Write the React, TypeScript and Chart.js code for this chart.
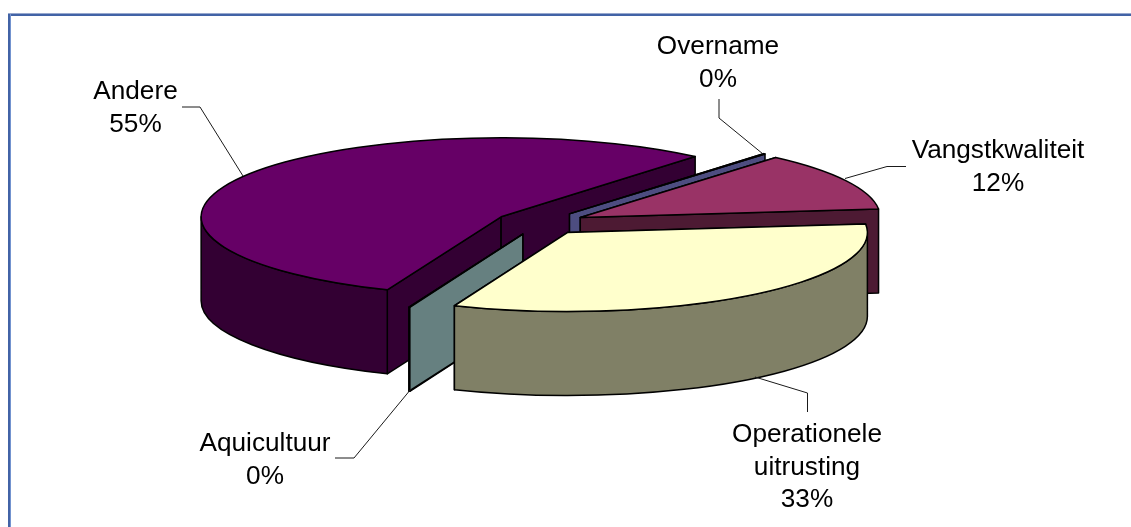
import React, { useEffect, useRef } from "react";
import { Chart, registerables } from "chart.js";

Chart.register(...registerables);

// --- data ---
const categories = ["Overname", "Vangstkwaliteit", "Operationele uitrusting", "Aquicultuur", "Andere"];
const labelLines = [["Overname"], ["Vangstkwaliteit"], ["Operationele", "uitrusting"], ["Aquicultuur"], ["Andere"]];
const values = [0.1, 12, 32.85, 0.05, 55];
const percentLabels = ["0%", "12%", "33%", "0%", "55%"];
const topColors = ["#9999FF", "#993366", "#FFFFCC", "#CCFFFF", "#660066"];
const sideColors = ["#4D4D80", "#4D1A33", "#808066", "#668080", "#330033"];

// --- layout ---
const W = 1131;
const H = 527;
const PIE_X = 540;
const PIE_Y = 223;
const RADIUS = 300;
const SQUASH = 79 / 300;
const DEPTH = 84;
const EXPLODE = 45.5;
const ROTATION = 40.3;
const PAINT_ORDER = [4, 0, 1, 3, 2];
const FONT = '26.2px "Liberation Sans", Arial, sans-serif';
const LINE_H = 32.7;
// label centre x, first baseline y, leader start on the slice, elbow, leader end
const labelLayout = [
  { x: 718, y: 54, leader: [[763, 154], [719, 118], [719, 99]] },
  { x: 998, y: 158, leader: [[845, 178.5], [887, 166.5], [906, 166.5]] },
  { x: 807, y: 442, leader: [[755, 377], [807.5, 393], [807.5, 412]] },
  { x: 265, y: 451, leader: [[411, 389], [354, 458], [335, 458]] },
  { x: 135.5, y: 99, leader: [[243, 176], [200, 107], [182, 107]] },
];

const pie3d = {
  id: "pie3d",
  beforeDatasetsDraw(chart: any) {
    const ctx: CanvasRenderingContext2D = chart.ctx;
    const arcs = chart.getDatasetMeta(0).data;
    ctx.save();
    ctx.lineJoin = "round";
    ctx.strokeStyle = "#000";
    ctx.lineWidth = 1.5;

    const paint = (fill: string) => {
      ctx.fillStyle = fill;
      ctx.fill();
      ctx.stroke();
    };

    PAINT_ORDER.forEach((i) => {
      const a = arcs[i];
      const s: number = a.startAngle;
      const e: number = a.endAngle;
      const R: number = a.outerRadius;
      const mid = (s + e) / 2;
      const off: number = a.options.offset;
      const ax = PIE_X + Math.cos(mid) * off;
      const ay = PIE_Y + Math.sin(mid) * off * SQUASH;
      const rim = (t: number) => [ax + Math.cos(t) * R, ay + Math.sin(t) * R * SQUASH];

      // cut faces
      [s, e].forEach((t) => {
        const [rx, ry] = rim(t);
        ctx.beginPath();
        ctx.moveTo(ax, ay);
        ctx.lineTo(rx, ry);
        ctx.lineTo(rx, ry + DEPTH);
        ctx.lineTo(ax, ay + DEPTH);
        ctx.closePath();
        paint(sideColors[i]);
      });

      // outer wall: only the part that faces the viewer
      for (let k = -1; k <= 1; k++) {
        const lo = Math.max(s + k * 2 * Math.PI, 0);
        const hi = Math.min(e + k * 2 * Math.PI, Math.PI);
        if (hi <= lo) continue;
        ctx.beginPath();
        ctx.ellipse(ax, ay, R, R * SQUASH, 0, lo, hi);
        ctx.ellipse(ax, ay + DEPTH, R, R * SQUASH, 0, hi, lo, true);
        ctx.closePath();
        paint(sideColors[i]);
      }

      // top face
      ctx.beginPath();
      ctx.moveTo(ax, ay);
      ctx.ellipse(ax, ay, R, R * SQUASH, 0, s, e);
      ctx.closePath();
      paint(a.options.backgroundColor);
    });
    ctx.restore();
    return false;
  },
  afterDraw(chart: any) {
    const ctx: CanvasRenderingContext2D = chart.ctx;
    ctx.save();
    ctx.strokeStyle = "#1a1a1a";
    ctx.lineWidth = 1;
    ctx.fillStyle = "#000";
    ctx.font = FONT;
    ctx.textAlign = "center";
    ctx.textBaseline = "alphabetic";
    labelLayout.forEach((l, i) => {
      ctx.beginPath();
      l.leader.forEach(([x, y], j) => (j ? ctx.lineTo(x, y) : ctx.moveTo(x, y)));
      ctx.stroke();
      [...labelLines[i], percentLabels[i]].forEach((t, j) => {
        ctx.fillText(t, l.x, l.y + j * LINE_H);
      });
    });
    ctx.restore();
  },
};

export default function App() {
  const ref = useRef<HTMLCanvasElement>(null);
  useEffect(() => {
    document.body.style.margin = "0";
    const chart = new Chart(ref.current!, {
      type: "pie",
      data: {
        labels: categories,
        datasets: [
          {
            data: values,
            backgroundColor: topColors,
            borderWidth: 0,
            offset: EXPLODE,
          },
        ],
      },
      options: {
        responsive: false,
        animation: false,
        radius: RADIUS,
        rotation: ROTATION,
        plugins: { legend: { display: false }, tooltip: { enabled: false }, title: { display: false } },
      } as any,
      plugins: [pie3d],
    });
    return () => chart.destroy();
  }, []);

  return (
    <div style={{ position: "fixed", left: 0, top: 0, width: W, height: H, background: "#fff", overflow: "hidden" }}>
      <canvas ref={ref} width={W} height={H} style={{ display: "block" }} />
      <div style={{ position: "absolute", left: 8, top: 14, right: 0, height: 2, background: "#4263A6", boxShadow: "0 -1px 0 #97A8CE" }} />
      <div style={{ position: "absolute", left: 8, top: 14, width: 2, bottom: 0, background: "#4263A6", boxShadow: "1px 0 0 #7393CF" }} />
    </div>
  );
}
